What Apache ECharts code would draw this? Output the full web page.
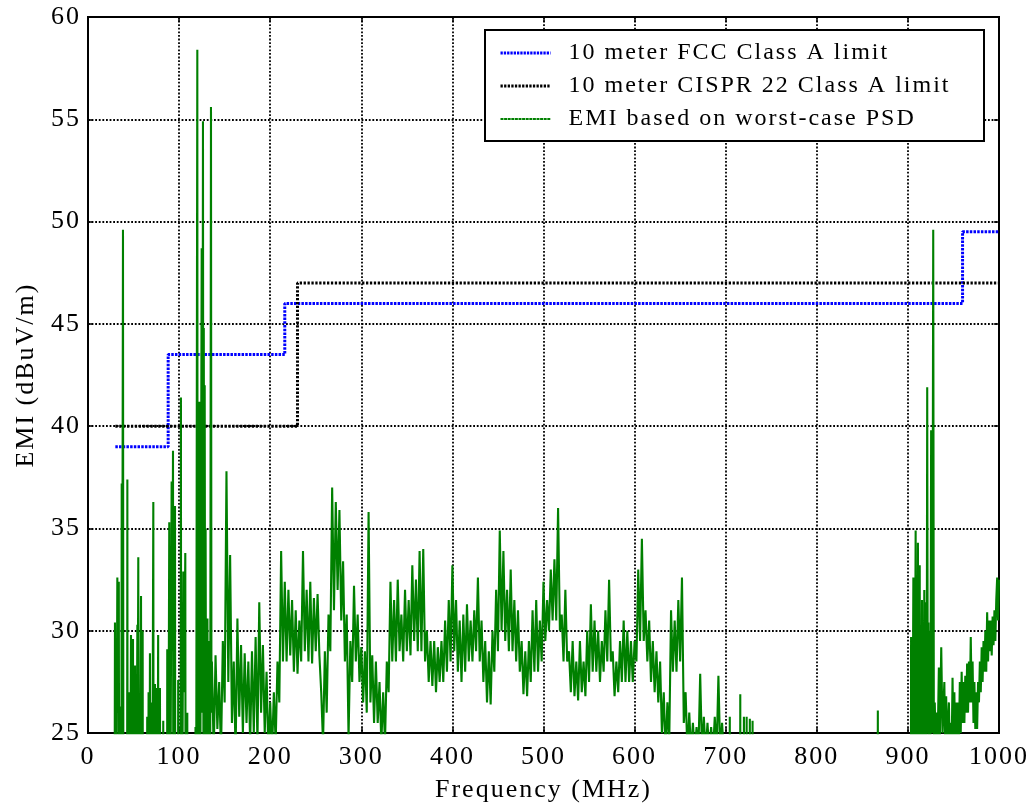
<!DOCTYPE html>
<html>
<head>
<meta charset="utf-8">
<script src="https://cdn.jsdelivr.net/npm/echarts@6/dist/echarts.min.js"></script>
<style>
html,body{margin:0;padding:0;background:#fff;}
#chart{width:1032px;height:809px;}
</style>
</head>
<body>
<div id="chart"></div>
<script>
// widen glyph spacing a little (the reference text is typeset loosely)
(function () {
  var proto = CanvasRenderingContext2D.prototype;
  var d = Object.getOwnPropertyDescriptor(proto, 'font');
  if (d && d.set && ('letterSpacing' in proto)) {
    Object.defineProperty(proto, 'font', {
      configurable: true,
      get: function () { return d.get.call(this); },
      set: function (v) { d.set.call(this, v); this.letterSpacing = '2px'; }
    });
  }
})();

// ---------------- data ----------------
var xTicks = [0, 100, 200, 300, 400, 500, 600, 700, 800, 900, 1000];
var yTicks = [25, 30, 35, 40, 45, 50, 55, 60];

var seriesNames = ['10 meter FCC Class A limit', '10 meter CISPR 22 Class A limit', 'EMI based on worst-case PSD'];

// step limits (value holds from this frequency up to the next one)
var fccFreq  = [30, 88, 216, 960, 1000];
var fccLevel = [39, 43.5, 46, 49.5, 49.5];
var cisprFreq  = [30, 230, 1000];
var cisprLevel = [40, 47, 47];

// EMI, 25-136 MHz: narrow spikes [MHz, dBuV/m]; 10 = below the plotted range
var lowBandPoints = [
  [28.8,10],[29.6,30.4],[30.3,10],[31.6,10],[32.2,32.6],[33,26],[33.8,32.4],[34.5,10],[35.5,10],[35.9,26.3],[36.4,10],
  [36.6,10],[37,37.2],[37.6,28],[38.4,49.6],[39,10],
  [42.8,10],[43.2,37.4],[43.6,10],[44.6,10],[45,27],[45.4,10],[46.8,10],[47.2,29.8],[47.6,10],[49,10],[49.4,29.6],[49.8,10],
  [51.2,10],[51.6,28.3],[52,10],[53.8,10],[54.2,30.3],[54.7,27],[55.2,33.6],[55.7,10],[57.8,10],[58.2,31.7],[58.8,10],
  [59.6,10],[60,30],[60.4,10],
  [64.6,10],[65,25.8],[65.4,10],[66.1,10],[66.5,27],[66.9,10],[67.6,10],[68,28.9],[68.4,10],[69.1,10],[69.5,26.5],[69.9,10],
  [71.3,10],[71.7,36.3],[72.1,10],[73.1,10],[73.5,27.4],[73.9,10],[74.9,10],[75.3,27.2],[75.7,10],[76.6,10],[77,29.8],[77.4,10],
  [78.6,10],[79,27.2],[79.4,10],[82.2,10],[82.6,25.6],[83,10],
  [86.6,10],[87,29.1],[87.4,10],[88.8,10],[89.2,35.3],[89.6,10],[91.4,10],[91.8,37.3],[92.5,29],[93.3,38.8],[93.8,10],
  [95.1,10],[95.5,36.1],[95.9,10],[98.6,10],[99,27.6],[99.4,10],[101.6,10],[102,41.4],[102.4,10],
  [104.2,10],[104.6,32.9],[105.6,27],[106.8,33.8],[107.3,10],[108.6,10],[109,26],[109.4,10],[117.6,10],[118,25.3],[118.4,10],
  [119.6,10],[120,58.4],[120.4,10],[121.8,10],[122.2,41.2],[122.6,10],
  [124.3,10],[124.8,48.7],[125.3,26],[125.8,40],[126.2,54.9],[126.7,24],[127.1,44.8],[127.6,26],[128.1,42],[128.6,24],
  [129.1,35],[129.6,24],[130.1,30],[130.6,24],[131.1,30.6],[131.6,24],[132.1,29.5],[132.6,24],[133.2,28],[133.8,10],
  [134.5,10],[135,55.6],[135.5,26]
];

// EMI, 136-700 MHz (2 MHz spacing, alternating peaks and troughs)
var midFreq = [
  136,138,140,142,144,146,148,150,152,154,
  156,158,160,162,164,166,168,170,172,174,
  176,178,180,182,184,186,188,190,192,194,
  196,198,200,202,204,206,208,210,212,214,
  216,218,220,222,224,226,228,230,232,234,
  236,238,240,242,244,246,248,250,252,254,
  256,258,260,262,264,266,268,270,272,274,
  276,278,280,282,284,286,288,290,292,294,
  296,298,300,302,304,306,308,310,312,314,
  316,318,320,322,324,326,328,330,332,334,
  336,338,340,342,344,346,348,350,352,354,
  356,358,360,362,364,366,368,370,372,374,
  376,378,380,382,384,386,388,390,392,394,
  396,398,400,402,404,406,408,410,412,414,
  416,418,420,422,424,426,428,430,432,434,
  436,438,440,442,444,446,448,450,452,454,
  456,458,460,462,464,466,468,470,472,474,
  476,478,480,482,484,486,488,490,492,494,
  496,498,500,502,504,506,508,510,512,514,
  516,518,520,522,524,526,528,530,532,534,
  536,538,540,542,544,546,548,550,552,554,
  556,558,560,562,564,566,568,570,572,574,
  576,578,580,582,584,586,588,590,592,594,
  596,598,600,602,604,606,608,610,612,614,
  616,618,620,622,624,626,628,630,632,634,
  636,638,640,642,644,646,648,650,652,654,
  656,658,660,662,664,666,668,670,672,674,
  676,678,680,682,684,686,688,690,692,694,
  696,698,700
];
var midLevel = [
  28.5,24,28.8,25.2,27.5,24,29.5,26.5,37.8,27.5,
  33.7,25.5,28.5,24,30.6,25.8,29.3,25,28.9,25.5,
  28.5,24.5,29,25,29.7,24.5,31.4,26,29.3,25,
  28,24,26.5,24,27,24.5,28.5,26.5,33.9,28.5,
  32.4,28.5,32,28.8,31.5,28,31,27.9,30.5,28.5,
  33.9,29,32,28.5,32.4,28.4,31.6,29,31.8,28.8,
  27,24.5,29,26,30.8,29,37,31,36.3,32,
  35.9,30.5,33.4,28.5,30.8,24.8,29.5,27.5,32.2,28.5,
  30.8,27.5,29.2,26.5,29,26,35.8,26.5,28.8,25.5,
  28.5,25.5,27.5,24.5,27,24.5,28.5,27,32.4,28.5,
  31.5,28.5,32.5,29,30.8,28.5,32,29,31.5,28.8,
  33.2,29.5,32.5,29,33.9,29,34,28.5,30,27.5,
  29.5,27.3,29.5,27,29.2,27.5,29.5,27.5,30.5,28,
  31.5,28.5,33.2,29,31.5,28,30.5,27.5,30.8,28,
  31.3,28.5,30.5,28.5,31,29,32.6,28.5,30.5,27.5,
  29.5,26.5,29,26.4,30,28,32,29,34.9,30,
  33.9,29.5,32,29,33,29,31.5,28.5,31,28,
  29.5,26.9,29,26.8,29.5,27.5,31,28,31.5,28,
  30.5,28.5,32.4,29.5,31.5,30,33,30.5,33.5,30.5,
  36,30,30.8,28.5,32,28.5,29,27,29.5,26.8,
  28.5,26.6,29.5,27,28.5,26.8,30,27.5,31.3,28,
  30.5,28,30,27.5,29.5,28,31,28.5,32.5,28.5,
  29,26.8,28.5,27,29.5,27.5,30.5,27.5,30,27.5,
  29.5,27.5,29.5,28.5,33,29.5,34.5,29.5,31,28.5,
  30.5,27.5,29.5,27,29,26.5,28.5,25,27,24,
  26.5,24.5,31,28,30.5,28,31.5,28.5,32.6,25.5,
  27,24,26,24,25.5,24,25.3,24,27.9,24,
  25.8,24,25.5,24,25.3,24,25.8,24,27.8,24,
  25.5,24,10
];

// EMI, 700-1000 MHz [MHz, dBuV/m]
var highBandPoints = [
  [704,10],[704.5,25.8],[705,10],[715.6,10],[716,26.9],[716.4,10],[719.6,10],[720,25.8],[720.4,10],
  [722.6,10],[723,25.8],[723.4,10],[726.1,10],[726.5,25.7],[726.9,10],[729.1,10],[729.5,25.6],[729.9,10],
  [866.6,10],[867,26.1],[867.4,10],
  [903.1,10],[903.5,29.7],[903.9,10],[905.6,10],[906,32.6],[906.4,10],[908.1,10],[908.5,34.9],[908.9,10],
  [910.6,10],[911,34.3],[911.4,10],[912.6,10],[913,33.2],[913.4,10],[915.1,10],[915.5,31.5],[915.9,10],
  [917.6,10],[918,32],[918.4,10],[919.6,10],[920,31.4],[920.6,24],[921.2,41.9],[921.8,25],[922.5,30.4],
  [923.2,24],[924,30],[924.8,24.5],[925.5,39.8],[926.2,25],[927,30],[927.8,49.6],[928.5,24],[929.5,26.5],
  [930.5,24],[931.5,26],[932.5,24],[934,28.2],[935,24.5],[936.6,29.2],[938,25],[940,27.5],[941,24],
  [942,26.8],[943,24],[944,25.5],[945,26.5],[946,24],[947,25.5],[948,24],[949,27.7],[950,24.5],[951,27],
  [952,24],[953,26.5],[954,24],[955,26.5],[956,24.5],[957,27.5],[958,25],[959,28],[960,25.5],[961,27.5],
  [962,25.5],[963,27.8],[964,26],[965,28.4],[966,26],[967,28.5],[968,26.5],[969,29.7],[970,26.5],[971,28.5],
  [972,25.5],[973,27.5],[974,25.2],[975,27],[976,25.2],[977,27.5],[978,26.5],[979,28.5],[980,27],[981,29.2],
  [982,27.5],[983,29.5],[984,28],[985,30],[986,28],[987,30.9],[988,28.5],[989,30.5],[990,29],[991,30.5],
  [992,28.8],[993,30.7],[994,29.3],[995,31],[996,29.5],[997,31.5],[998,32.6],[999,30.5],[1000,32.5]
];

// ---------------- chart ----------------
var FONT = "'Liberation Serif', 'Times New Roman', serif";

function pairs(xs, ys) { return xs.map(function (x, i) { return [x, ys[i]]; }); }
var emiData = lowBandPoints.concat(pairs(midFreq, midLevel), highBandPoints);

var gridLine = { show: true, lineStyle: { color: '#000', width: 1.8, type: [1.8, 1.8] } };
var plainNumber = function (v) { return String(v); };

var chart = echarts.init(document.getElementById('chart'), null, { renderer: 'canvas' });
chart.setOption({
  animation: false,
  backgroundColor: '#fff',
  grid: { left: 88, right: 33, top: 17, bottom: 74, show: true, borderColor: '#000', borderWidth: 2, backgroundColor: '#fff' },
  xAxis: [{
    type: 'value', position: 'bottom',
    min: xTicks[0], max: xTicks[xTicks.length - 1], interval: xTicks[1] - xTicks[0],
    name: 'Frequency (MHz)', nameLocation: 'middle', nameGap: 41,
    nameTextStyle: { fontFamily: FONT, fontSize: 26, color: '#000' },
    axisLine: { show: true, onZero: false, lineStyle: { color: '#000', width: 2 } },
    axisTick: { show: true, inside: true, length: 5, lineStyle: { color: '#000', width: 1.5 } },
    axisLabel: { margin: 10, fontFamily: FONT, fontSize: 26, color: '#000', formatter: plainNumber },
    splitLine: gridLine
  }, {
    type: 'value', position: 'top',
    min: xTicks[0], max: xTicks[xTicks.length - 1], interval: xTicks[1] - xTicks[0],
    axisLine: { show: true, onZero: false, lineStyle: { color: '#000', width: 2 } },
    axisTick: { show: true, inside: true, length: 5, lineStyle: { color: '#000', width: 1.5 } },
    axisLabel: { show: false }, splitLine: { show: false }
  }],
  yAxis: [{
    type: 'value', position: 'left',
    min: yTicks[0], max: yTicks[yTicks.length - 1], interval: yTicks[1] - yTicks[0],
    name: 'EMI (dBuV/m)', nameLocation: 'middle', nameGap: 48,
    nameTextStyle: { fontFamily: FONT, fontSize: 26, color: '#000' },
    axisLine: { show: true, onZero: false, lineStyle: { color: '#000', width: 2 } },
    axisTick: { show: true, inside: true, length: 5, lineStyle: { color: '#000', width: 1.5 } },
    axisLabel: { margin: 7, fontFamily: FONT, fontSize: 26, color: '#000', formatter: plainNumber },
    splitLine: gridLine
  }, {
    type: 'value', position: 'right',
    min: yTicks[0], max: yTicks[yTicks.length - 1], interval: yTicks[1] - yTicks[0],
    axisLine: { show: true, onZero: false, lineStyle: { color: '#000', width: 2 } },
    axisTick: { show: true, inside: true, length: 5, lineStyle: { color: '#000', width: 1.5 } },
    axisLabel: { show: false }, splitLine: { show: false }
  }],
  graphic: [{
    type: 'rect', z: 3, silent: true,
    shape: { x: 485, y: 30, width: 499, height: 111 },
    style: { fill: '#fff', stroke: '#000', lineWidth: 2 }
  }],
  legend: {
    orient: 'vertical', left: 499, top: 40, z: 6,
    itemWidth: 50, itemHeight: 12, itemGap: 7, padding: 0,
    itemStyle: { opacity: 0 },
    textStyle: { fontFamily: FONT, fontSize: 24, color: '#000', padding: [0, 0, 0, 13] },
    data: [
      { name: seriesNames[0], lineStyle: { color: '#0000ff', width: 3, type: [2.3, 1] } },
      { name: seriesNames[1], lineStyle: { color: '#000', width: 3, type: [2.3, 1.3] } },
      { name: seriesNames[2], lineStyle: { color: '#008000', width: 2, type: [3, 0.6] } }
    ]
  },
  series: [{
    name: seriesNames[0], type: 'line', step: 'end', symbol: 'none', showSymbol: false,
    data: pairs(fccFreq, fccLevel), z: 2,
    itemStyle: { color: '#0000ff' },
    lineStyle: { color: '#0000ff', width: 3, type: [2.5, 1.2] }
  }, {
    name: seriesNames[1], type: 'line', step: 'end', symbol: 'none', showSymbol: false,
    data: pairs(cisprFreq, cisprLevel), z: 2,
    itemStyle: { color: '#000' },
    lineStyle: { color: '#000', width: 3, type: [2.3, 1.6] }
  }, {
    name: seriesNames[2], type: 'line', symbol: 'none', showSymbol: false,
    data: emiData, z: 2, clip: true,
    itemStyle: { color: '#008000' },
    lineStyle: { color: '#008000', width: 2.1 }
  }]
});
</script>
</body>
</html>
